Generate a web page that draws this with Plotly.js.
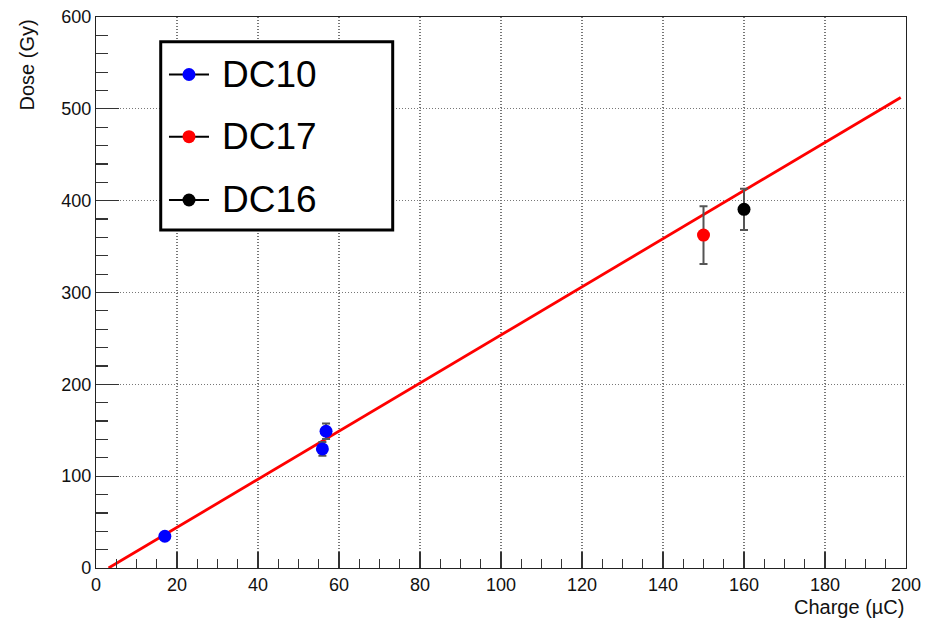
<!DOCTYPE html>
<html>
<head>
<meta charset="utf-8">
<script src="https://cdn.plot.ly/plotly-3.0.1.min.js"></script>
<style>html,body{margin:0;padding:0;background:#fff;}#chart{width:925px;height:618px;}</style>
</head>
<body>
<div id="chart"></div>
<script>
// Data
var dc10X = [17.0, 55.9, 56.8];
var dc10Y = [34.6, 129.7, 148.9];
var dc10Err = [3, 7.5, 8.5];
var dc17X = [150];
var dc17Y = [362.5];
var dc17Err = [31.5];
var dc16X = [160];
var dc16Y = [390.6];
var dc16Err = [22.5];
var fitX = [3.1, 198.7];
var fitY = [0, 512.3];
var seriesNames = ['DC10', 'DC17', 'DC16'];
var seriesColors = ['#0000ff', '#ff0000', '#000000'];
var xTicks = [0, 20, 40, 60, 80, 100, 120, 140, 160, 180, 200];
var yTicks = [0, 100, 200, 300, 400, 500, 600];

var FONT = 'Liberation Sans, Arial, Helvetica, sans-serif';
var errStyle = {type: 'data', visible: true, color: '#555', thickness: 2, width: 4};

function pts(x, y, e, c) {
  return {
    x: x, y: y, type: 'scatter', mode: 'markers', showlegend: false,
    marker: {color: c, size: 13},
    error_y: Object.assign({array: e}, errStyle)
  };
}

var traces = [
  {x: fitX, y: fitY, type: 'scatter', mode: 'lines', showlegend: false,
   line: {color: '#ff0000', width: 2.8}},
  pts(dc10X, dc10Y, dc10Err, seriesColors[0]),
  pts(dc17X, dc17Y, dc17Err, seriesColors[1]),
  pts(dc16X, dc16Y, dc16Err, seriesColors[2])
];

// Legend (drawn manually to match the boxed legend)
var legX0 = 0.0799, legX1 = 0.3663, legY0 = 0.6134, legY1 = 0.9552;
var rowY = [0.8956, 0.7828, 0.6679];
var shapes = [{
  type: 'rect', xref: 'paper', yref: 'paper', x0: legX0, x1: legX1, y0: legY0, y1: legY1,
  line: {color: '#000', width: 3}, fillcolor: '#fff', layer: 'above'
}];
var annotations = [];
for (var i = 0; i < seriesNames.length; i++) {
  shapes.push({type: 'line', xref: 'paper', yref: 'paper', x0: 0.0901, x1: 0.1395,
    y0: rowY[i], y1: rowY[i], line: {color: '#000', width: 2}, layer: 'above'});
  shapes.push({type: 'circle', xref: 'paper', yref: 'paper', xsizemode: 'pixel', ysizemode: 'pixel',
    xanchor: 0.1148, yanchor: rowY[i], x0: -6.5, x1: 6.5, y0: -6.5, y1: 6.5,
    fillcolor: seriesColors[i], line: {width: 0}, layer: 'above'});
  annotations.push({xref: 'paper', yref: 'paper', x: 0.1531, y: rowY[i], xanchor: 'left', yanchor: 'middle',
    text: seriesNames[i], showarrow: false, font: {family: FONT, size: 37, color: '#000'}});
}
annotations.push({xref: 'paper', yref: 'paper', x: -0.0852, y: 1.0, xanchor: 'center', yanchor: 'top',
  textangle: -90, text: 'Dose (Gy)', showarrow: false, font: {family: FONT, size: 20, color: '#111'}});
annotations.push({xref: 'paper', yref: 'paper', x: 1.0, y: -0.0708, xanchor: 'right', yanchor: 'middle',
  text: 'Charge (\u00b5C)', showarrow: false, font: {family: FONT, size: 20, color: '#111'}});

var axisCommon = {
  showline: true, linecolor: '#222', linewidth: 1.2, mirror: true,
  ticks: 'inside', tickcolor: '#333', tickwidth: 1.2,
  showgrid: true, gridcolor: '#777', griddash: '1px,2px', gridwidth: 1.2,
  zeroline: false, tickfont: {family: FONT, size: 18, color: '#111'}
};

var layout = {
  width: 925, height: 618,
  margin: {l: 96, r: 19, t: 17, b: 50},
  paper_bgcolor: '#fff', plot_bgcolor: '#fff',
  showlegend: false,
  xaxis: Object.assign({}, axisCommon, {
    range: [0, 200], tickmode: 'array', tickvals: xTicks, ticklen: 16,
    minor: {dtick: 5, ticklen: 9, ticks: 'inside', tickcolor: '#333', tickwidth: 1.2, showgrid: false}
  }),
  yaxis: Object.assign({}, axisCommon, {
    range: [0, 600], tickmode: 'array', tickvals: yTicks, ticklen: 23,
    minor: {dtick: 20, ticklen: 12, ticks: 'inside', tickcolor: '#333', tickwidth: 1.2, showgrid: false}
  }),
  shapes: shapes,
  annotations: annotations
};

Plotly.newPlot('chart', traces, layout, {displayModeBar: false, staticPlot: true});
</script>
</body>
</html>
